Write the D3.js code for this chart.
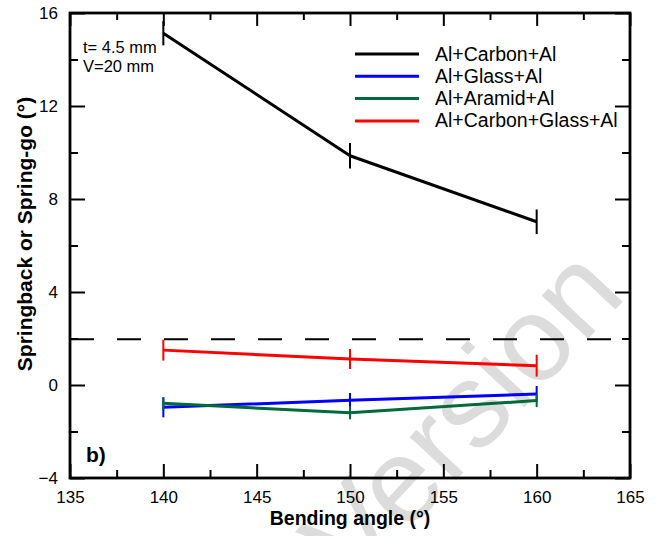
<!DOCTYPE html>
<html>
<head>
<meta charset="utf-8">
<script src="https://cdn.jsdelivr.net/npm/d3@7"></script>
<style>
  html, body { margin: 0; padding: 0; background: #fff; }
  svg { display: block; font-family: Arial, "Liberation Sans", sans-serif; }
</style>
</head>
<body>
<svg id="chart" width="657" height="536"></svg>
<script>
// Bending angle (degrees)
const angles = [140, 150, 160];

// Springback / spring-go per laminate (degrees) and their error half-widths
const seriesNames = ["Al+Carbon+Al", "Al+Glass+Al", "Al+Aramid+Al", "Al+Carbon+Glass+Al"];
const seriesColors = ["#000000", "#0000ff", "#006a3a", "#ff0000"];
const carbonVals = [15.13, 9.86, 7.02];
const carbonErr = [0.52, 0.55, 0.53];
const glassVals = [-0.96, -0.66, -0.39];
const glassErr = [0.43, 0.32, 0.35];
const aramidVals = [-0.79, -1.19, -0.67];
const aramidErr = [0.26, 0.28, 0.28];
const carbonGlassVals = [1.50, 1.12, 0.83];
const carbonGlassErr = [0.45, 0.43, 0.47];

// Reference level drawn as dashed line
const referenceLevel = 1.97;

// Axis ticks
const xMajorTicks = [135, 140, 145, 150, 155, 160, 165];
const xMinorTicks = [137.5, 142.5, 147.5, 152.5, 157.5, 162.5];
const yMajorTicks = [-4, 0, 4, 8, 12, 16];
const yMinorTicks = [-2, 2, 6, 10, 14];

const series = [
  { name: seriesNames[0], color: seriesColors[0], values: carbonVals, err: carbonErr },
  { name: seriesNames[1], color: seriesColors[1], values: glassVals, err: glassErr },
  { name: seriesNames[2], color: seriesColors[2], values: aramidVals, err: aramidErr },
  { name: seriesNames[3], color: seriesColors[3], values: carbonGlassVals, err: carbonGlassErr }
];

const svg = d3.select("#chart");
const plotLeft = 70, plotRight = 630, plotTop = 13, plotBottom = 478;

const x = d3.scaleLinear().domain([135, 165]).range([plotLeft, plotRight]);
const y = d3.scaleLinear().domain([-4, 16]).range([plotBottom, plotTop]);

// Faint diagonal watermark behind the plot
svg.append("text")
  .attr("transform", "translate(628,296) rotate(-47)")
  .attr("text-anchor", "end")
  .attr("font-size", 120)
  .attr("fill", "#dcdcdc")
  .text("Accepted Version");

// Dashed reference line
svg.append("line")
  .attr("x1", x(135)).attr("x2", x(165))
  .attr("y1", y(referenceLevel)).attr("y2", y(referenceLevel))
  .attr("stroke", "#000").attr("stroke-width", 2)
  .attr("stroke-dasharray", "24,23");

// Series lines and error bars
const line = d3.line().x((d, i) => x(angles[i])).y(d => y(d));
series.forEach(s => {
  svg.append("path")
    .attr("d", line(s.values))
    .attr("fill", "none")
    .attr("stroke", s.color)
    .attr("stroke-width", 3)
    .attr("stroke-linejoin", "round");
  svg.selectAll(null).data(s.values).enter().append("line")
    .attr("x1", (d, i) => x(angles[i])).attr("x2", (d, i) => x(angles[i]))
    .attr("y1", (d, i) => y(d + s.err[i])).attr("y2", (d, i) => y(d - s.err[i]))
    .attr("stroke", s.color).attr("stroke-width", 2);
});

// Axes: ticks point inward on all four sides
function tickAxis(axisFn, scale, values, size, translate) {
  const g = svg.append("g").attr("transform", translate)
    .call(axisFn(scale).tickValues(values).tickSize(size).tickFormat(""));
  g.select(".domain").remove();
  g.selectAll(".tick line").attr("stroke", "#000").attr("stroke-width", 2);
  return g;
}
tickAxis(d3.axisTop, x, xMajorTicks, 14, `translate(0,${plotBottom})`);
tickAxis(d3.axisTop, x, xMinorTicks, 8, `translate(0,${plotBottom})`);
tickAxis(d3.axisBottom, x, xMajorTicks, 13, `translate(0,${plotTop})`);
tickAxis(d3.axisBottom, x, xMinorTicks, 7, `translate(0,${plotTop})`);
tickAxis(d3.axisRight, y, yMajorTicks, 15, `translate(${plotLeft},0)`);
tickAxis(d3.axisRight, y, yMinorTicks, 8, `translate(${plotLeft},0)`);
tickAxis(d3.axisLeft, y, yMajorTicks, 15, `translate(${plotRight},0)`);
tickAxis(d3.axisLeft, y, yMinorTicks, 8, `translate(${plotRight},0)`);

// Plot frame
svg.append("rect")
  .attr("x", plotLeft).attr("y", plotTop)
  .attr("width", plotRight - plotLeft).attr("height", plotBottom - plotTop)
  .attr("fill", "none").attr("stroke", "#000").attr("stroke-width", 2.8);

// Tick labels
const xLab = svg.append("g").attr("transform", `translate(0,${plotBottom})`)
  .call(d3.axisBottom(x).tickValues(xMajorTicks).tickSize(0).tickPadding(13));
xLab.select(".domain").remove();
xLab.selectAll("text").attr("font-size", 17).attr("font-family", "Arial, 'Liberation Sans', sans-serif").attr("fill", "#000");

const yLab = svg.append("g").attr("transform", `translate(${plotLeft},0)`)
  .call(d3.axisLeft(y).tickValues(yMajorTicks).tickSize(0).tickPadding(12));
yLab.select(".domain").remove();
yLab.selectAll("text").attr("font-size", 17).attr("font-family", "Arial, 'Liberation Sans', sans-serif").attr("fill", "#000");

// Axis titles
svg.append("text")
  .attr("x", x(150)).attr("y", 525)
  .attr("text-anchor", "middle")
  .attr("font-size", 19.5).attr("font-weight", "bold")
  .text("Bending angle (°)");

svg.append("text")
  .attr("transform", `translate(32,234) rotate(-90)`)
  .attr("text-anchor", "middle")
  .attr("font-size", 21).attr("font-weight", "bold")
  .text("Springback or Spring-go (°)");

// Annotations
svg.append("text").attr("x", 83).attr("y", 53).attr("font-size", 16.5).text("t= 4.5 mm");
svg.append("text").attr("x", 83).attr("y", 72).attr("font-size", 16.5).text("V=20 mm");
svg.append("text").attr("x", 86).attr("y", 462).attr("font-size", 21).attr("font-weight", "bold").text("b)");

// Legend
const legend = svg.append("g");
series.forEach((s, i) => {
  const ly = 54 + i * 22.3;
  legend.append("line")
    .attr("x1", 355).attr("x2", 419).attr("y1", ly).attr("y2", ly)
    .attr("stroke", s.color).attr("stroke-width", 3);
  legend.append("text")
    .attr("x", 435).attr("y", ly + 6.5)
    .attr("font-size", 19.5)
    .text(s.name);
});
</script>
</body>
</html>
